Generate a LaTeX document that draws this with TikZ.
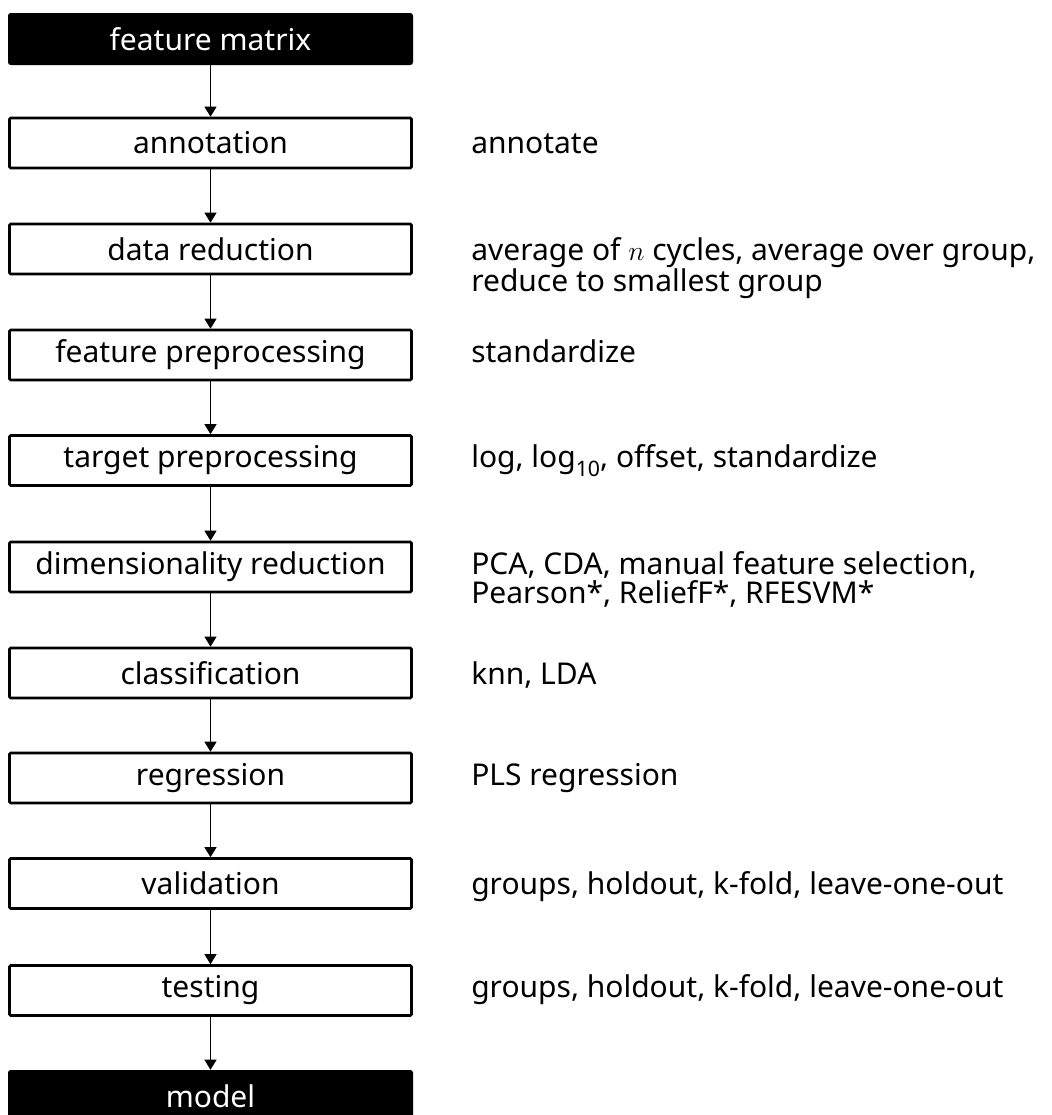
\documentclass[tikz,border=0pt]{standalone}
\usepackage{fontspec}
\setmainfont{Noto Sans}
\usetikzlibrary{arrows.meta}
\newcommand{\twolines}[2]{\vtop{\baselineskip=21.75pt\hbox{#1}\hbox{#2}}}
\begin{document}
\begin{tikzpicture}[x=0.75pt,y=-0.75pt,
  every node/.style={font=\fontsize{22.5}{27}\selectfont},
  stepbox/.style={draw=black, line width=2pt, rounded corners=1pt, minimum width=301.5pt, minimum height=37.5pt, inner sep=0pt, fill=white},
  endbox/.style={fill=black, text=white, rounded corners=2pt, minimum width=303.75pt, minimum height=39pt, inner sep=0pt},
  conn/.style={line width=0.9pt, -{Triangle[width=9pt,length=7.5pt]}},
  desc/.style={anchor=base west, inner sep=0pt}
]
\useasboundingbox (0,0) rectangle (1051,1115);
\coordinate (rx) at (471,0);

\node[endbox]  (fm)  at (210.5,39)   {feature matrix};
\node[stepbox] (an)  at (210.5,143)  {annotation};
\node[stepbox] (dr)  at (210.5,249)  {data reduction};
\node[stepbox] (fp)  at (210.5,355)  {feature preprocessing};
\node[stepbox] (tp)  at (210.5,460.5){target preprocessing};
\node[stepbox] (dim) at (210.5,567)  {dimensionality reduction};
\node[stepbox] (cl)  at (210.5,673)  {classification};
\node[stepbox] (rg)  at (210.5,778)  {regression};
\node[stepbox] (va)  at (210.5,883.5){validation};
\node[stepbox] (te)  at (210.5,990.5){testing};
\node[endbox]  (mo)  at (210.5,1096) {model};

\draw[conn] (fm) -- (an);
\draw[conn] (an) -- (dr);
\draw[conn] (dr) -- (fp);
\draw[conn] (fp) -- (tp);
\draw[conn] (tp) -- (dim);
\draw[conn] (dim) -- (cl);
\draw[conn] (cl) -- (rg);
\draw[conn] (rg) -- (va);
\draw[conn] (va) -- (te);
\draw[conn] (te) -- (mo);

\node[desc] (dan) at (an.base -| rx) {annotate};
\node[desc] (ddr) at (dr.base -| rx) {\twolines{average of $n$ cycles, average over group,}{reduce to smallest group}};
\node[desc] (dfp) at (fp.base -| rx) {standardize};
\node[desc] (dtp) at (tp.base -| rx) {log, log\raisebox{-0.3em}{\fontsize{16}{16}\selectfont 10}, offset, standardize};
\node[desc] (ddim) at (dim.base -| rx) {\twolines{PCA, CDA, manual feature selection,}{Pearson*, ReliefF*, RFESVM*}};
\node[desc] (dcl) at (cl.base -| rx) {knn, LDA};
\node[desc] (drg) at (rg.base -| rx) {PLS regression};
\node[desc] (dva) at (va.base -| rx) {groups, holdout, k-fold, leave-one-out};
\node[desc] (dte) at (te.base -| rx) {groups, holdout, k-fold, leave-one-out};
\end{tikzpicture}
\end{document}
